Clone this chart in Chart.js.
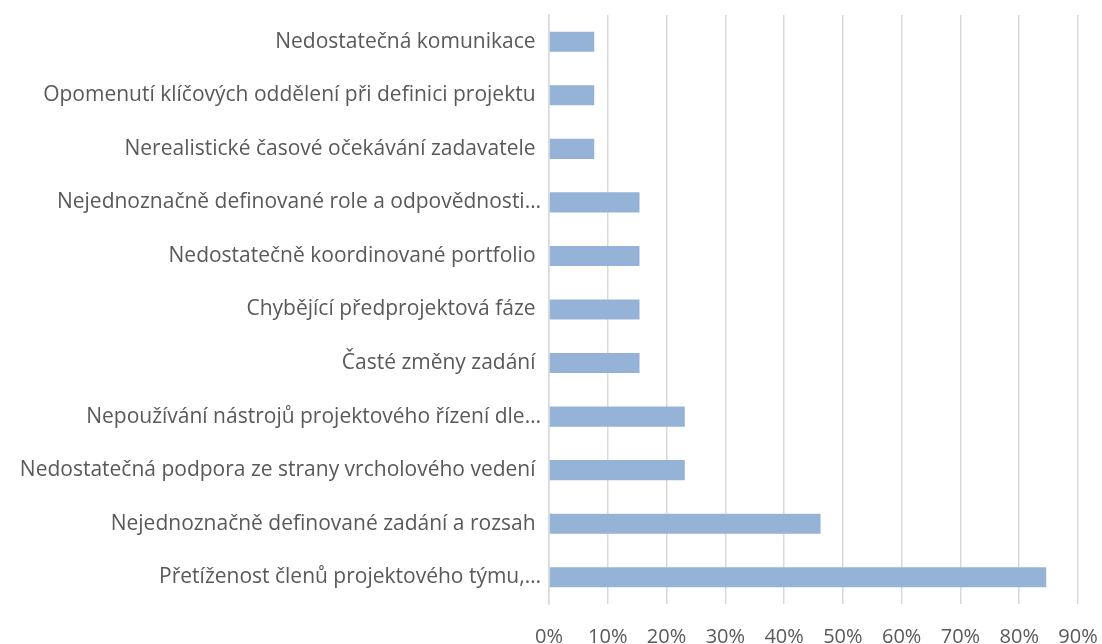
<!DOCTYPE html>
<html>
<head>
<meta charset="utf-8">
<script src="https://cdn.jsdelivr.net/npm/chart.js@4"></script>
<style>
  html, body { margin: 0; padding: 0; background: #fff; }
  #wrap { width: 1102px; height: 644px; }
</style>
</head>
<body>
<div id="wrap"><canvas id="chart-causes"></canvas></div>
<script>
const categories = [
    "Nedostatečná komunikace ",
    "Opomenutí klíčových oddělení při definici projektu ",
    "Nerealistické časové očekávání zadavatele ",
    "Nejednoznačně definované role a odpovědnosti…",
    "Nedostatečně koordinované portfolio ",
    "Chybějící předprojektová fáze ",
    "Časté změny zadání ",
    "Nepoužívání nástrojů projektového řízení dle…",
    "Nedostatečná podpora ze strany vrcholového vedení ",
    "Nejednoznačně definované zadání a rozsah ",
    "Přetíženost členů projektového týmu,…"
]
const shares = [7.7, 7.7, 7.7, 15.4, 15.4, 15.4, 15.4, 23.1, 23.1, 46.2, 84.6]
const xTicks = [0, 10, 20, 30, 40, 50, 60, 70, 80, 90]

const textColor = "#595959"
const gridColor = "#d9d9d9"
const fontFamily = "'Open Sans', 'Noto Sans', sans-serif"

const ctx = document.getElementById("chart-causes").getContext("2d")
const causesChart = new Chart(ctx, {
    type: "bar",
    data: {
        labels: categories,
        datasets: [{
            data: shares,
            backgroundColor: "#95b3d7",
            borderWidth: 0,
            barPercentage: 0.75,
            categoryPercentage: 0.5
        }]
    },
    options: {
        indexAxis: "y",
        responsive: true,
        maintainAspectRatio: false,
        animation: false,
        layout: { padding: { top: 15, right: 24, left: 0, bottom: 0 } },
        plugins: {
            legend: { display: false },
            tooltip: { enabled: false }
        },
        scales: {
            x: {
                min: 0,
                max: 90,
                afterBuildTicks: (axis) => {
                    axis.ticks = xTicks.map((v) => ({ value: v }))
                },
                afterFit: (axis) => {
                    axis.height = 40
                    axis.paddingLeft = 0
                    axis.paddingRight = 0
                },
                grid: { color: gridColor, lineWidth: 1.5, drawTicks: false },
                border: { display: false },
                ticks: {
                    color: textColor,
                    font: { family: fontFamily, size: 20 },
                    padding: 21,
                    maxRotation: 0,
                    callback: (v) => v + "%"
                }
            },
            y: {
                afterFit: (axis) => {
                    axis.width = 549
                    axis.paddingTop = 0
                    axis.paddingBottom = 0
                },
                grid: { display: false, drawTicks: false },
                border: { display: true, color: gridColor, width: 1.5 },
                ticks: {
                    color: textColor,
                    font: { family: fontFamily, size: 21 },
                    padding: 8,
                    autoSkip: false
                }
            }
        }
    }
})
</script>
</body>
</html>
